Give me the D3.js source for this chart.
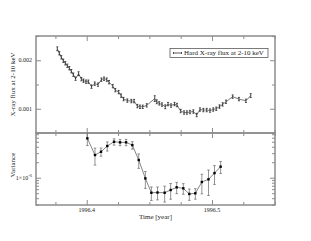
<!DOCTYPE html>
<html>
<head>
<meta charset="utf-8">
<script src="https://cdn.jsdelivr.net/npm/d3@7"></script>
<style>
  body { margin: 0; background: #fff; }
  svg { display: block; }
  text { font-family: "Liberation Serif", "DejaVu Serif", serif; fill: #222; }
</style>
</head>
<body>
<div id="chart"></div>
<script>
// hard X-ray light curve (top panel)
var fluxTime = [1996.3765, 1996.3781, 1996.3797, 1996.3813, 1996.3829, 1996.3845, 1996.3861, 1996.3877,
    1996.3893, 1996.3911, 1996.3935, 1996.3957, 1996.3974, 1996.3994, 1996.4013, 1996.4038, 1996.4064,
    1996.4090, 1996.4117, 1996.4138, 1996.4160, 1996.4178, 1996.4208, 1996.4228, 1996.4255, 1996.4274,
    1996.4294, 1996.4324, 1996.4356, 1996.4378, 1996.4404, 1996.4425, 1996.4447, 1996.4479, 1996.4543,
    1996.4559, 1996.4579, 1996.4601, 1996.4627, 1996.4649, 1996.4673, 1996.4701, 1996.4721, 1996.4750,
    1996.4777, 1996.4800, 1996.4824, 1996.4851, 1996.4878, 1996.4904, 1996.4931, 1996.4958, 1996.4984,
    1996.5010, 1996.5034, 1996.5060, 1996.5085, 1996.5112, 1996.5165, 1996.5215, 1996.5271, 1996.5309];
var fluxValue = [0.002236, 0.002144, 0.002061, 0.00199, 0.001938, 0.001887, 0.001836, 0.001774,
    0.001702, 0.00162, 0.001723, 0.00161, 0.001579, 0.001558, 0.001558, 0.001456, 0.001517,
    0.001497, 0.0016, 0.00162, 0.0016, 0.001548, 0.001466, 0.001384, 0.001343, 0.001271,
    0.001199, 0.001168, 0.001158, 0.001158, 0.001055, 0.001041, 0.001041, 0.00107, 0.001209,
    0.001144, 0.001111, 0.001086, 0.001041, 0.001096, 0.001066, 0.001096, 0.001076, 0.000953,
    0.000922, 0.000922, 0.000932, 0.000943, 0.000871, 0.000984, 0.000973, 0.000973, 0.000963,
    0.000984, 0.001, 0.001045, 0.00109, 0.001144, 0.00125, 0.001199, 0.001164, 0.001271];
var fluxErr = [0.00004, 0.000035, 0.000035, 0.000035, 0.000035, 0.000035, 0.000035, 0.000035,
    0.000035, 0.000035, 0.00004, 0.000035, 0.000035, 0.000035, 0.000035, 0.000035, 0.000035,
    0.000035, 0.000035, 0.000035, 0.000035, 0.000035, 0.000035, 0.000035, 0.000035, 0.000035,
    0.000035, 0.000035, 0.000035, 0.000035, 0.000035, 0.000035, 0.000035, 0.000035, 0.00006,
    0.00004, 0.000035, 0.000035, 0.00004, 0.000035, 0.000035, 0.000035, 0.000035, 0.000035,
    0.000035, 0.000035, 0.000035, 0.000035, 0.000035, 0.000035, 0.000035, 0.000035, 0.000035,
    0.000035, 0.000035, 0.000035, 0.000035, 0.000035, 0.000035, 0.000035, 0.000035, 0.00004];

// variance (bottom panel)
var varTime = [1996.4005, 1996.4066, 1996.4114, 1996.4164, 1996.4218, 1996.4266, 1996.4314, 1996.4364,
    1996.4415, 1996.4468, 1996.4516, 1996.4565, 1996.4622, 1996.4670, 1996.4718, 1996.4771,
    1996.4819, 1996.4867, 1996.4919, 1996.4972, 1996.5020, 1996.5069];
var varValue = [5.82e-6, 2.76e-6, 3.20e-6, 4.13e-6, 5.0e-6, 4.87e-6, 4.87e-6, 4.31e-6,
    2.21e-6, 0.97e-6, 5.11e-7, 5.16e-7, 5.11e-7, 5.77e-7, 6.51e-7, 6.22e-7,
    4.83e-7, 4.98e-7, 8.26e-7, 9.31e-7, 1.23e-6, 1.64e-6];
var varErr = [1.6e-6, 1.0e-6, 0.58e-6, 0.83e-6, 0.7e-6, 0.68e-6, 0.68e-6, 0.71e-6,
    0.69e-6, 0.35e-6, 1.5e-7, 1.45e-7, 1.75e-7, 1.95e-7, 1.6e-7, 1.45e-7,
    1.2e-7, 1.15e-7, 3.4e-7, 4.8e-7, 4.9e-7, 4.3e-7];

var timeMajor = [1996.4, 1996.5];
var timeMinor = [1996.375, 1996.425, 1996.45, 1996.475, 1996.525, 1996.55];
var fluxMajor = [0.001, 0.002];
var fluxMinor = [0.0005, 0.0015, 0.0025];
var varMajor = [1e-6];
var varMinor = [3e-7, 4e-7, 5e-7, 6e-7, 7e-7, 8e-7, 9e-7, 2e-6, 3e-6, 4e-6, 5e-6, 6e-6, 7e-6];

var width = 311, height = 241;
var left = 36, right = 275, top1 = 36, mid = 133, bottom = 205;
var frameColor = "#8c8c8c";

var svg = d3.select("#chart").append("svg")
    .attr("width", width)
    .attr("height", height);

var x = d3.scaleLinear().domain([1996.3595, 1996.5503]).range([left, right]);
var yFlux = d3.scaleLinear().domain([0.0005, 0.0025]).range([mid, top1]);
var yVar = d3.scaleLog().domain([2.95e-7, 7.4e-6]).range([bottom, mid]);

// inward ticks on all four sides of a panel
function ticks(axisFn, scale, values, size, translate) {
    var g = svg.append("g")
        .attr("transform", translate)
        .call(axisFn(scale).tickValues(values).tickSize(size).tickFormat(""));
    g.select(".domain").remove();
    g.selectAll(".tick line").attr("stroke", frameColor).attr("stroke-width", 1);
    return g;
}

function panelTicks(yScale, yMaj, yMin, y0, y1) {
    ticks(d3.axisBottom, x, timeMajor, -5, "translate(0," + y0 + ")");
    ticks(d3.axisBottom, x, timeMinor, -3, "translate(0," + y0 + ")");
    ticks(d3.axisTop, x, timeMajor, -5, "translate(0," + y1 + ")");
    ticks(d3.axisTop, x, timeMinor, -3, "translate(0," + y1 + ")");
    ticks(d3.axisLeft, yScale, yMaj, -5, "translate(" + left + ",0)");
    ticks(d3.axisLeft, yScale, yMin, -3, "translate(" + left + ",0)");
    ticks(d3.axisRight, yScale, yMaj, -5, "translate(" + right + ",0)");
    ticks(d3.axisRight, yScale, yMin, -3, "translate(" + right + ",0)");
    svg.append("rect")
        .attr("x", left).attr("y", y1)
        .attr("width", right - left).attr("height", y0 - y1)
        .attr("fill", "none")
        .attr("stroke", frameColor)
        .attr("stroke-width", 1.5);
}

panelTicks(yFlux, fluxMajor, fluxMinor, mid, top1);
panelTicks(yVar, varMajor, varMinor, bottom, mid);

// ---- top panel data
var flux = fluxTime.map(function (t, i) {
    return { t: t, v: fluxValue[i], e: fluxErr[i] };
});

svg.append("path")
    .datum(flux)
    .attr("fill", "none")
    .attr("stroke", "#222")
    .attr("stroke-width", 0.6)
    .attr("d", d3.line().x(function (d) { return x(d.t); }).y(function (d) { return yFlux(d.v); }));

var fe = svg.append("g").attr("stroke", "#111").attr("stroke-width", 0.7);
fe.selectAll("line.bar").data(flux).enter().append("line")
    .attr("x1", function (d) { return x(d.t); })
    .attr("x2", function (d) { return x(d.t); })
    .attr("y1", function (d) { return yFlux(d.v - d.e); })
    .attr("y2", function (d) { return yFlux(d.v + d.e); });
[-1, 1].forEach(function (s) {
    fe.selectAll(null).data(flux).enter().append("line")
        .attr("x1", function (d) { return x(d.t) - 1; })
        .attr("x2", function (d) { return x(d.t) + 1; })
        .attr("y1", function (d) { return yFlux(d.v + s * d.e); })
        .attr("y2", function (d) { return yFlux(d.v + s * d.e); });
});

// ---- bottom panel data
var variance = varTime.map(function (t, i) {
    return { t: t, v: varValue[i], e: varErr[i] };
});

svg.append("path")
    .datum(variance)
    .attr("fill", "none")
    .attr("stroke", "#333")
    .attr("stroke-width", 0.6)
    .attr("d", d3.line().x(function (d) { return x(d.t); }).y(function (d) { return yVar(d.v); }));

var ve = svg.append("g").attr("stroke", "#666").attr("stroke-width", 0.7);
ve.selectAll(null).data(variance).enter().append("line")
    .attr("x1", function (d) { return x(d.t); })
    .attr("x2", function (d) { return x(d.t); })
    .attr("y1", function (d) { return Math.min(bottom, yVar(Math.max(d.v - d.e, 2.95e-7))); })
    .attr("y2", function (d) { return Math.max(mid, yVar(d.v + d.e)); });
[-1, 1].forEach(function (s) {
    ve.selectAll(null).data(variance).enter().append("line")
        .attr("x1", function (d) { return x(d.t) - 1.3; })
        .attr("x2", function (d) { return x(d.t) + 1.3; })
        .attr("y1", function (d) { return yVar(d.v + s * d.e); })
        .attr("y2", function (d) { return yVar(d.v + s * d.e); })
        .style("display", function (d) { return yVar(d.v + s * d.e) < mid ? "none" : null; });
});

svg.append("g").selectAll("rect").data(variance).enter().append("rect")
    .attr("x", function (d) { return x(d.t) - 1.2; })
    .attr("y", function (d) { return yVar(d.v) - 1.2; })
    .attr("width", 2.4)
    .attr("height", 2.4)
    .attr("fill", "#000");

// ---- labels
svg.selectAll("text.fluxlab").data(fluxMajor).enter().append("text")
    .attr("x", 32)
    .attr("y", function (d) { return yFlux(d) + 2; })
    .attr("text-anchor", "end")
    .attr("font-size", 6)
    .text(function (d) { return d3.format(".3f")(d); });

var vl = svg.append("text")
    .attr("x", 32)
    .attr("y", yVar(1e-6) + 2)
    .attr("text-anchor", "end")
    .attr("font-size", 6);
vl.append("tspan").text("1\u00d710");
vl.append("tspan").attr("dy", -2.5).attr("font-size", 4.5).text("-6");

svg.selectAll("text.timelab").data(timeMajor).enter().append("text")
    .attr("x", function (d) { return x(d); })
    .attr("y", 211.5)
    .attr("text-anchor", "middle")
    .attr("font-size", 6)
    .text(function (d) { return d3.format(".1f")(d); });

svg.append("text")
    .attr("x", (left + right) / 2)
    .attr("y", 219)
    .attr("text-anchor", "middle")
    .attr("font-size", 7)
    .text("Time [year]");

svg.append("text")
    .attr("transform", "translate(15," + ((top1 + mid) / 2) + ") rotate(-90)")
    .attr("text-anchor", "middle")
    .attr("font-size", 7)
    .text("X-ray flux at 2-10 keV");

svg.append("text")
    .attr("transform", "translate(15,165) rotate(-90)")
    .attr("text-anchor", "middle")
    .attr("font-size", 7)
    .text("Variance");

// ---- legend
var lg = svg.append("g");
lg.append("rect")
    .attr("x", 170).attr("y", 48.5)
    .attr("width", 98).attr("height", 9)
    .attr("fill", "#fff")
    .attr("stroke", "#444")
    .attr("stroke-width", 0.7);
lg.append("line").attr("x1", 173.5).attr("x2", 181.5).attr("y1", 53).attr("y2", 53)
    .attr("stroke", "#111").attr("stroke-width", 0.7);
lg.append("line").attr("x1", 173.5).attr("x2", 173.5).attr("y1", 52).attr("y2", 54)
    .attr("stroke", "#111").attr("stroke-width", 0.7);
lg.append("line").attr("x1", 181.5).attr("x2", 181.5).attr("y1", 52).attr("y2", 54)
    .attr("stroke", "#111").attr("stroke-width", 0.7);
lg.append("text")
    .attr("x", 184)
    .attr("y", 55.3)
    .attr("font-size", 7)
    .text("Hard X-ray flux at 2-10 keV");
</script>
</body>
</html>
